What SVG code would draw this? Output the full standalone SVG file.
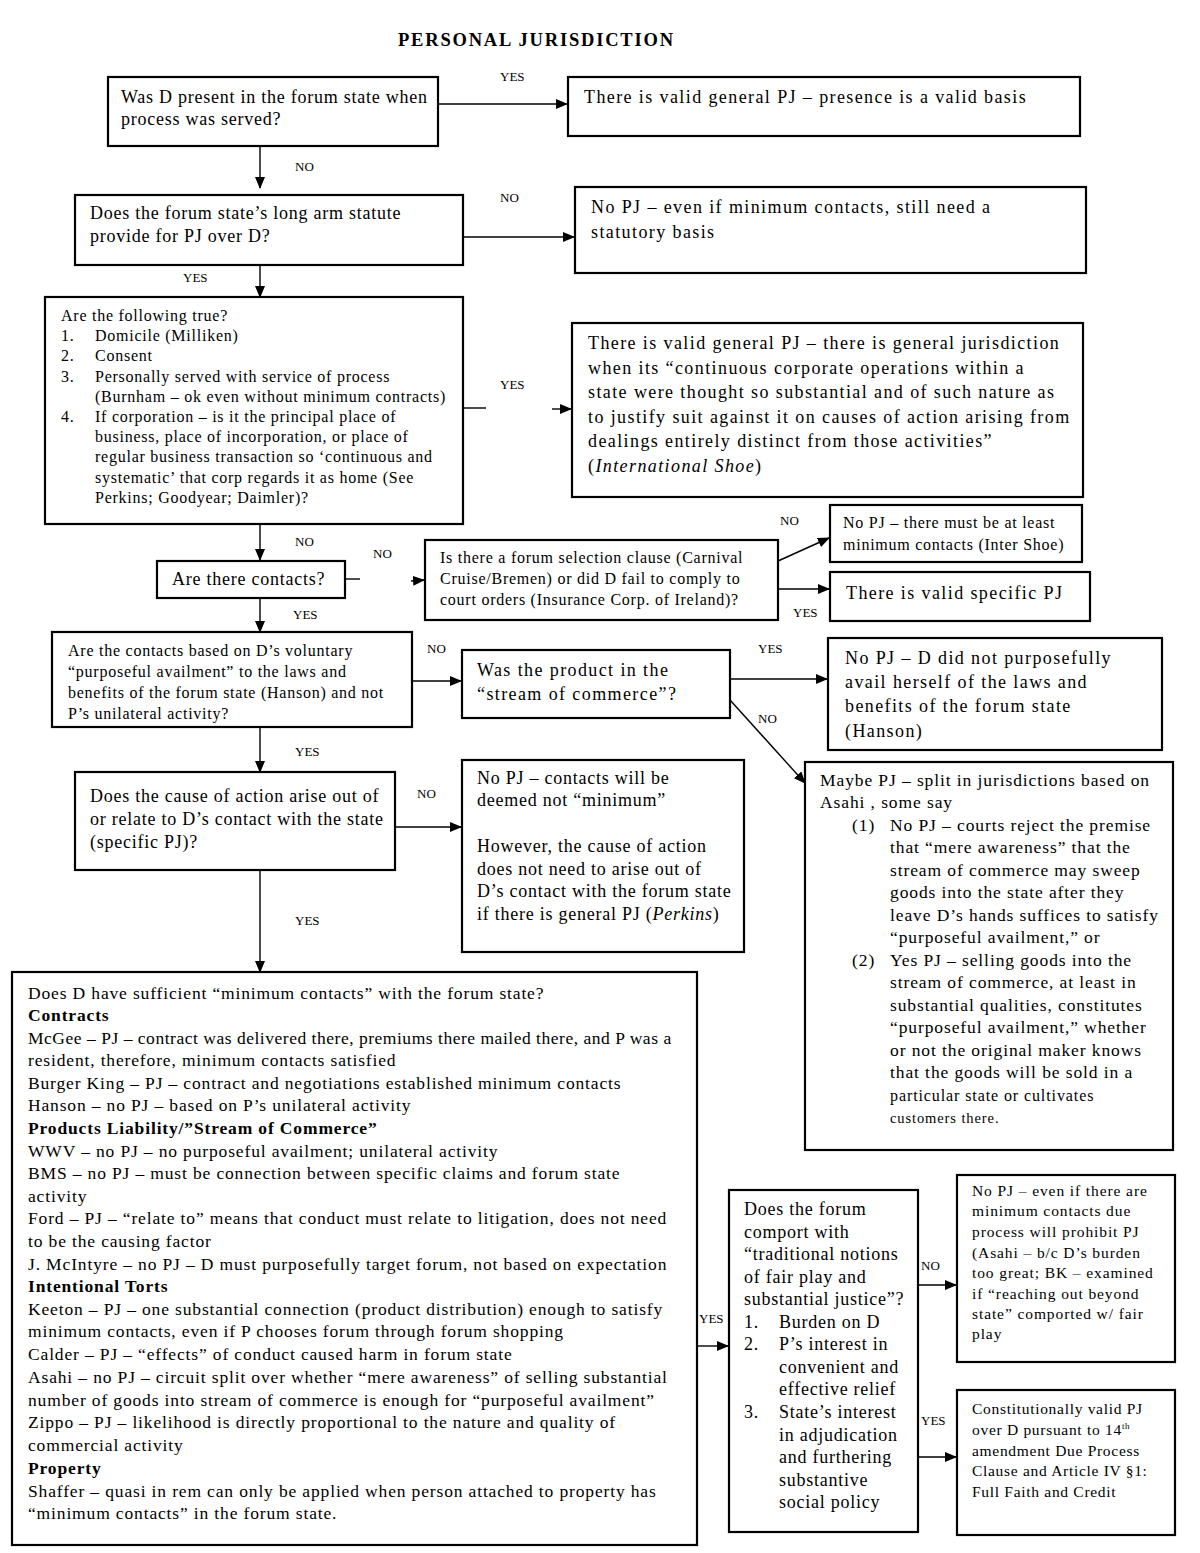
<svg xmlns="http://www.w3.org/2000/svg" width="1200" height="1553" viewBox="0 0 1200 1553">
<style>
text{font-family:"Liberation Serif","Times New Roman",serif;fill:#000}
.box{fill:#fff;stroke:#000;stroke-width:2.2}
.c{stroke:#000;stroke-width:1.4;fill:none}
.lbl{font-size:13px}
.t18{font-size:18px;letter-spacing:0.75px}
.w18{font-size:18px;letter-spacing:1.4px}
.t17{font-size:17.5px;letter-spacing:0.9px}
.q17{font-size:17.5px;letter-spacing:0.85px}
.t16{font-size:16px;letter-spacing:0.75px}
.t15{font-size:15.5px;letter-spacing:0.9px}
.t15b{font-size:15.5px;letter-spacing:0.7px}
.b{font-weight:bold}
</style>
<defs>
<marker id="ah" markerWidth="12" markerHeight="10" refX="11" refY="5" orient="auto" markerUnits="userSpaceOnUse">
<path d="M0,0 L12,5 L0,10 Z" fill="#000"/>
</marker>
</defs>
<rect width="1200" height="1553" fill="#fff"/>
<text x="398" y="46" font-size="18.5" font-weight="bold" letter-spacing="1.8">PERSONAL JURISDICTION</text>

<g id="connectors">
<line class="c" x1="438" y1="104" x2="567" y2="104" marker-end="url(#ah)"/>
<line class="c" x1="260" y1="146" x2="260" y2="188" marker-end="url(#ah)"/>
<line class="c" x1="463" y1="237" x2="574" y2="237" marker-end="url(#ah)"/>
<line class="c" x1="260" y1="265" x2="260" y2="297" marker-end="url(#ah)"/>
<line class="c" x1="463" y1="408" x2="486" y2="408"/>
<line class="c" x1="552" y1="409" x2="571" y2="409" marker-end="url(#ah)"/>
<line class="c" x1="260" y1="524" x2="260" y2="560" marker-end="url(#ah)"/>
<line class="c" x1="345" y1="579" x2="360" y2="579"/>
<line class="c" x1="411" y1="581" x2="424" y2="580" marker-end="url(#ah)"/>
<line class="c" x1="778" y1="561" x2="829" y2="538" marker-end="url(#ah)"/>
<line class="c" x1="778" y1="589" x2="829" y2="589" marker-end="url(#ah)"/>
<line class="c" x1="260" y1="598" x2="260" y2="632" marker-end="url(#ah)"/>
<line class="c" x1="412" y1="681" x2="461" y2="681" marker-end="url(#ah)"/>
<line class="c" x1="730" y1="679" x2="827" y2="679" marker-end="url(#ah)"/>
<line class="c" x1="730" y1="700" x2="805" y2="783" marker-end="url(#ah)"/>
<line class="c" x1="260" y1="727" x2="260" y2="772" marker-end="url(#ah)"/>
<line class="c" x1="395" y1="827" x2="461" y2="827" marker-end="url(#ah)"/>
<line class="c" x1="260" y1="870" x2="260" y2="972" marker-end="url(#ah)"/>
<line class="c" x1="697" y1="1346" x2="728" y2="1346" marker-end="url(#ah)"/>
<line class="c" x1="918" y1="1285" x2="956" y2="1285" marker-end="url(#ah)"/>
<line class="c" x1="918" y1="1457" x2="956" y2="1457" marker-end="url(#ah)"/>
</g>

<g id="labels">
<text class="lbl" x="500" y="81">YES</text>
<text class="lbl" x="295" y="171">NO</text>
<text class="lbl" x="500" y="202">NO</text>
<text class="lbl" x="183" y="282">YES</text>
<text class="lbl" x="500" y="389">YES</text>
<text class="lbl" x="295" y="546">NO</text>
<text class="lbl" x="373" y="558">NO</text>
<text class="lbl" x="780" y="525">NO</text>
<text class="lbl" x="793" y="617">YES</text>
<text class="lbl" x="293" y="619">YES</text>
<text class="lbl" x="427" y="653">NO</text>
<text class="lbl" x="758" y="653">YES</text>
<text class="lbl" x="758" y="723">NO</text>
<text class="lbl" x="295" y="756">YES</text>
<text class="lbl" x="417" y="798">NO</text>
<text class="lbl" x="295" y="925">YES</text>
<text class="lbl" x="699" y="1323">YES</text>
<text class="lbl" x="921" y="1270">NO</text>
<text class="lbl" x="921" y="1425">YES</text>
</g>

<g id="n1">
<rect class="box" x="108" y="77" width="330" height="69"/>
<text class="t18" x="121" y="103">Was D present in the forum state when</text>
<text class="t18" x="121" y="125">process was served?</text>
</g>
<g id="n2">
<rect class="box" x="568" y="77" width="512" height="59"/>
<text class="w18" x="584" y="103">There is valid general PJ – presence is a valid basis</text>
</g>
<g id="n3">
<rect class="box" x="75" y="195" width="388" height="70"/>
<text class="t18" x="90" y="219">Does the forum state’s long arm statute</text>
<text class="t18" x="90" y="242">provide for PJ over D?</text>
</g>
<g id="n4">
<rect class="box" x="575" y="187" width="511" height="86"/>
<text class="w18" x="591" y="213">No PJ – even if minimum contacts, still need a</text>
<text class="w18" x="591" y="238">statutory basis</text>
</g>
<g id="n5">
<rect class="box" x="45" y="297" width="418" height="227"/>
<g class="t16">
<text x="61" y="321">Are the following true?</text>
<text x="61" y="341">1.</text><text x="95" y="341">Domicile (Milliken)</text>
<text x="61" y="361">2.</text><text x="95" y="361">Consent</text>
<text x="61" y="382">3.</text><text x="95" y="382">Personally served with service of process</text>
<text x="95" y="402">(Burnham – ok even without minimum contracts)</text>
<text x="61" y="422">4.</text><text x="95" y="422">If corporation – is it the principal place of</text>
<text x="95" y="442">business, place of incorporation, or place of</text>
<text x="95" y="462">regular business transaction so  ‘continuous and</text>
<text x="95" y="483">systematic’ that corp regards it as home (See</text>
<text x="95" y="503">Perkins; Goodyear; Daimler)?</text>
</g>
</g>
<g id="n6">
<rect class="box" x="572" y="323" width="511" height="174"/>
<g class="w18">
<text x="588" y="349">There is valid general PJ – there is general jurisdiction</text>
<text x="588" y="374">when its “continuous corporate operations within a</text>
<text x="588" y="398">state were thought so substantial and of such nature as</text>
<text x="588" y="423">to justify suit against it on causes of action arising from</text>
<text x="588" y="447">dealings entirely distinct from those activities”</text>
<text x="588" y="472">(<tspan font-style="italic">International Shoe</tspan>)</text>
</g>
</g>
<g id="n7">
<rect class="box" x="157" y="561" width="188" height="37"/>
<text class="t18" x="172" y="585">Are there contacts?</text>
</g>
<g id="n8">
<rect class="box" x="425" y="540" width="353" height="80"/>
<g class="t16">
<text x="440" y="563">Is there a forum selection clause  (Carnival</text>
<text x="440" y="584">Cruise/Bremen) or did D fail to comply to</text>
<text x="440" y="605">court orders (Insurance Corp. of Ireland)?</text>
</g>
</g>
<g id="n9">
<rect class="box" x="830" y="505" width="252" height="57"/>
<text class="t16" x="843" y="528">No PJ – there must be at least</text>
<text class="t16" x="843" y="550">minimum contacts (Inter Shoe)</text>
</g>
<g id="n10">
<rect class="box" x="830" y="572" width="260" height="49"/>
<text class="w18" x="846" y="599">There is valid specific PJ</text>
</g>
<g id="n11">
<rect class="box" x="52" y="632" width="360" height="95"/>
<g class="t16">
<text x="68" y="656">Are the contacts based on D’s voluntary</text>
<text x="68" y="677">“purposeful availment” to the laws and</text>
<text x="68" y="698">benefits of the forum state (Hanson) and not</text>
<text x="68" y="719">P’s unilateral activity?</text>
</g>
</g>
<g id="n12">
<rect class="box" x="462" y="650" width="268" height="68"/>
<text class="w18" x="477" y="676">Was the product in the</text>
<text class="w18" x="477" y="700">“stream of commerce”?</text>
</g>
<g id="n13">
<rect class="box" x="828" y="638" width="334" height="112"/>
<g class="w18">
<text x="845" y="664">No PJ – D did not purposefully</text>
<text x="845" y="688">avail herself of the laws and</text>
<text x="845" y="712">benefits of the forum state</text>
<text x="845" y="737">(Hanson)</text>
</g>
</g>
<g id="n14">
<rect class="box" x="805" y="762" width="368" height="388"/>
<g class="t17">
<text x="820" y="786">Maybe PJ – split in jurisdictions based on</text>
<text x="820" y="808">Asahi , some say</text>
<text x="852" y="831">(1)</text><text x="890" y="831">No PJ – courts reject the premise</text>
<text x="890" y="853">that “mere awareness” that the</text>
<text x="890" y="876">stream of commerce may sweep</text>
<text x="890" y="898">goods into the state after they</text>
<text x="890" y="921">leave D’s hands suffices to satisfy</text>
<text x="890" y="943">“purposeful availment,” or</text>
<text x="852" y="966">(2)</text><text x="890" y="966">Yes PJ – selling goods into the</text>
<text x="890" y="988">stream of commerce, at least in</text>
<text x="890" y="1011">substantial qualities, constitutes</text>
<text x="890" y="1033">“purposeful availment,” whether</text>
<text x="890" y="1056">or not the original maker knows</text>
<text x="890" y="1078">that the goods will be sold in a</text>
<text x="890" y="1101" font-size="16">particular state or cultivates</text>
<text x="890" y="1123" font-size="14.5">customers there.</text>
</g>
</g>
<g id="n15">
<rect class="box" x="75" y="772" width="320" height="98"/>
<g class="t18">
<text x="90" y="802">Does the cause of action arise out of</text>
<text x="90" y="825">or relate to D’s contact with the state</text>
<text x="90" y="848">(specific PJ)?</text>
</g>
</g>
<g id="n16">
<rect class="box" x="462" y="760" width="282" height="192"/>
<g class="t18">
<text x="477" y="784">No PJ – contacts will be</text>
<text x="477" y="806">deemed not “minimum”</text>
<text x="477" y="852">However, the cause of action</text>
<text x="477" y="875">does not need to arise out of</text>
<text x="477" y="897">D’s contact with the forum state</text>
<text x="477" y="920">if there is general PJ (<tspan font-style="italic">Perkins</tspan>)</text>
</g>
</g>
<g id="n17">
<rect class="box" x="12" y="972" width="685" height="573"/>
<g class="q17">
<text x="28" y="999">Does D have sufficient “minimum contacts” with the forum state?</text>
<text x="28" y="1021" class="b">Contracts</text>
<text x="28" y="1044" textLength="644" lengthAdjust="spacing">McGee – PJ – contract was delivered there, premiums there mailed there, and P was a</text>
<text x="28" y="1066">resident, therefore, minimum contacts satisfied</text>
<text x="28" y="1089">Burger King – PJ – contract and negotiations established minimum contacts</text>
<text x="28" y="1111">Hanson – no PJ – based on P’s unilateral activity</text>
<text x="28" y="1134" class="b">Products Liability/”Stream of Commerce”</text>
<text x="28" y="1157">WWV – no PJ – no purposeful availment; unilateral activity</text>
<text x="28" y="1179">BMS – no PJ – must be connection between specific claims and forum state</text>
<text x="28" y="1202">activity</text>
<text x="28" y="1224">Ford – PJ – “relate to” means that conduct must relate to litigation, does not need</text>
<text x="28" y="1247">to be the causing factor</text>
<text x="28" y="1270">J. McIntyre – no PJ – D must purposefully target forum, not based on expectation</text>
<text x="28" y="1292" class="b">Intentional Torts</text>
<text x="28" y="1315">Keeton – PJ – one substantial connection (product distribution) enough to satisfy</text>
<text x="28" y="1337">minimum contacts, even if P chooses forum through forum shopping</text>
<text x="28" y="1360">Calder – PJ – “effects” of conduct caused harm in forum state</text>
<text x="28" y="1383">Asahi – no PJ – circuit split over whether “mere awareness” of selling substantial</text>
<text x="28" y="1406">number of goods into stream of commerce is enough for “purposeful availment”</text>
<text x="28" y="1428">Zippo – PJ – likelihood is directly proportional to the nature and quality of</text>
<text x="28" y="1451">commercial activity</text>
<text x="28" y="1474" class="b">Property</text>
<text x="28" y="1497">Shaffer – quasi in rem can only be applied when person attached to property has</text>
<text x="28" y="1519">“minimum contacts” in the forum state.</text>
</g>
</g>
<g id="n18">
<rect class="box" x="729" y="1190" width="189" height="342"/>
<g class="t18">
<text x="744" y="1215">Does the forum</text>
<text x="744" y="1238">comport with</text>
<text x="744" y="1260">“traditional notions</text>
<text x="744" y="1283">of fair play and</text>
<text x="744" y="1305">substantial justice”?</text>
<text x="744" y="1328">1.</text><text x="779" y="1328">Burden on D</text>
<text x="744" y="1350">2.</text><text x="779" y="1350">P’s interest in</text>
<text x="779" y="1373">convenient and</text>
<text x="779" y="1395">effective relief</text>
<text x="744" y="1418">3.</text><text x="779" y="1418">State’s interest</text>
<text x="779" y="1441">in adjudication</text>
<text x="779" y="1463">and  furthering</text>
<text x="779" y="1486">substantive</text>
<text x="779" y="1508">social policy</text>
</g>
</g>
<g id="n19">
<rect class="box" x="957" y="1175" width="218" height="187"/>
<g class="t15">
<text x="972" y="1196">No PJ – even if there are</text>
<text x="972" y="1216">minimum contacts due</text>
<text x="972" y="1237">process will prohibit PJ</text>
<text x="972" y="1258">(Asahi – b/c D’s burden</text>
<text x="972" y="1278">too great; BK – examined</text>
<text x="972" y="1299">if “reaching out beyond</text>
<text x="972" y="1319">state” comported w/ fair</text>
<text x="972" y="1339">play</text>
</g>
</g>
<g id="n20">
<rect class="box" x="957" y="1390" width="218" height="145"/>
<g class="t15b">
<text x="972" y="1414">Constitutionally valid PJ</text>
<text x="972" y="1435">over D pursuant to 14<tspan font-size="9" dy="-6">th</tspan></text>
<text x="972" y="1456">amendment Due Process</text>
<text x="972" y="1476">Clause and Article IV §1:</text>
<text x="972" y="1497">Full Faith and Credit</text>
</g>
</g>
</svg>
